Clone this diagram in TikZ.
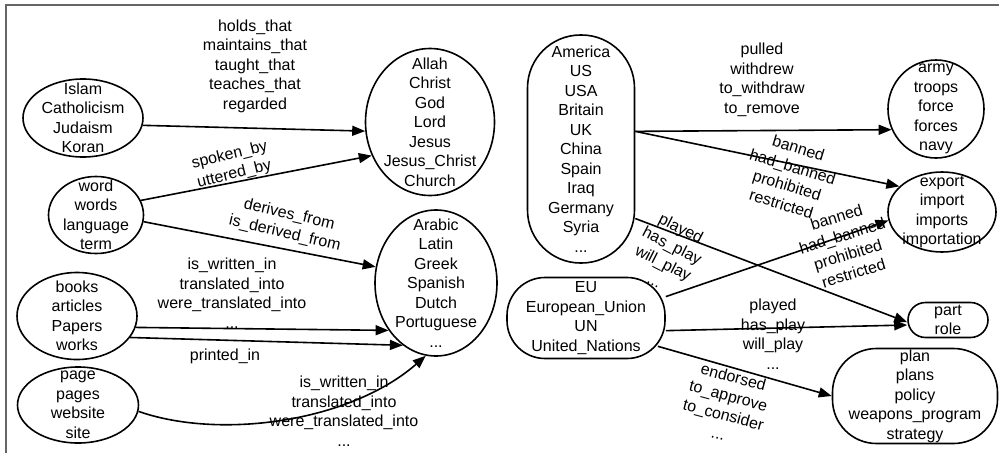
\documentclass[tikz,border=0pt]{standalone}
\usepackage{fontspec}
\setmainfont{Liberation Sans}
\usetikzlibrary{arrows.meta, shapes.geometric}

\begin{document}
\begin{tikzpicture}[x=1pt, y=-1pt,
    every node/.style={font=\fontsize{16}{19.5}\selectfont, align=center},
    group/.style={draw, line width=1.6pt, inner sep=-40pt},
    oval/.style={group, ellipse},
    pill/.style={group, rectangle, rounded corners=#1},
    rel/.style={line width=1.6pt, -{Triangle[length=13pt, width=10pt]}}]
\useasboundingbox (0,0) rectangle (999,453);
% frame
\draw[gray!80!black, line width=1.3pt] (6,453) |- (999,5);

% left groups
\node[oval, minimum width=120, minimum height=78] (islam) at (83,118) {Islam\\Catholicism\\Judaism\\Koran};
\node[oval, minimum width=95, minimum height=77] (word) at (96,215) {word\\words\\language\\term};
\node[oval, minimum width=120, minimum height=87] (books) at (77,316) {books\\articles\\Papers\\works};
\node[oval, minimum width=121, minimum height=76] (page) at (78,405) {page\\pages\\website\\site};
\node[oval, minimum width=129, minimum height=147] (god) at (430,122) {Allah\\Christ\\God\\Lord\\Jesus\\Jesus\_Christ\\Church};
\node[oval, minimum width=122, minimum height=146] (lang) at (436,283) {Arabic\\Latin\\Greek\\Spanish\\Dutch\\Portuguese\\...};

% right groups
\node[pill=53, minimum width=107, minimum height=228] (country) at (581,149) {America\\US\\USA\\Britain\\UK\\China\\Spain\\Iraq\\Germany\\Syria\\...};
\node[pill=38, minimum width=158, minimum height=81] (eu) at (586,318) {EU\\European\_Union\\UN\\United\_Nations};
\node[oval, minimum width=96, minimum height=98] (army) at (936,109) {army\\troops\\force\\forces\\navy};
\node[oval, minimum width=108, minimum height=80] (export) at (942,212) {export\\import\\imports\\importation};
\node[pill=17.5, minimum width=80, minimum height=35] (part) at (948,320) {part\\role};
\node[pill=44, minimum width=165, minimum height=95] (plan) at (915,396) {plan\\plans\\policy\\weapons\_program\\strategy};

% relations, left
\draw[rel] (islam.-7) -- (god.188);
\draw[rel] (word.18) -- (god.210);
\draw[rel] (word.-8) -- (lang.165);
\draw[rel] (books.-11) -- (lang.225);
\draw[rel] (books.-22) -- (lang.242);
\draw[rel] (page.-6) .. controls (220,440) and (350,422) .. (lang.262);

% relations, right
\draw[rel] (country.18) -- (army.205);
\draw[rel] (country.18) -- (export.149);
\draw[rel] (country.-52) -- (part.183);
\draw[rel] (eu.15) -- (export.189);
\draw[rel] (eu.-9) -- (part.187);
\draw[rel] ([xshift=-8pt, yshift=13pt]eu.south east) -- (plan.180);

% labels
\node (lhold) at (255,66) {holds\_that\\maintains\_that\\taught\_that\\teaches\_that\\regarded};
\node[rotate=14] (lspoken) at (232,165) {spoken\_by\\uttered\_by};
\node[rotate=-13] (lderive) at (287,224) {derives\_from\\is\_derived\_from};
\node (lwrit) at (232,293) {is\_written\_in\\translated\_into\\were\_translated\_into\\...};
\node (lprint) at (225,356) {printed\_in};
\node (lwritb) at (344,411) {is\_written\_in\\translated\_into\\were\_translated\_into\\...};
\node (lpull) at (762,80) {pulled\\withdrew\\to\_withdraw\\to\_remove};
\node[rotate=-17] (lban) at (790,176) {banned\\had\_banned\\prohibited\\restricted};
\node[rotate=-27] (lplay) at (668,254) {played\\has\_play\\will\_play\\...};
\node[rotate=17] (lbanb) at (845,245) {banned\\had\_banned\\prohibited\\restricted};
\node (lplayb) at (773,334) {played\\has\_play\\will\_play\\...};
\node[rotate=-15] (lendo) at (726,405) {endorsed\\to\_approve\\to\_consider\\...};
\end{tikzpicture}
\end{document}
